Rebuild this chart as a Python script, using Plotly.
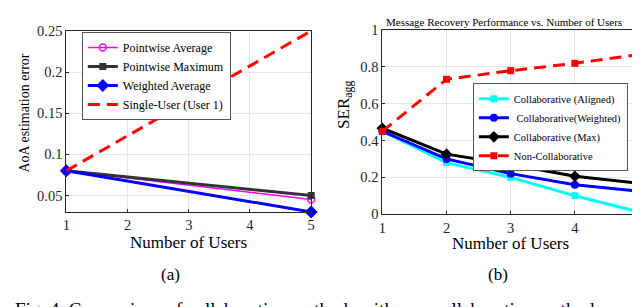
import plotly.graph_objects as go

W, H = 640, 307
FONT = "Liberation Serif, Times New Roman, Times, serif"

# ---------------- data: (a) AoA estimation error ----------------
users_a = [1, 5]
pointwise_avg = [0.08, 0.045]
pointwise_max = [0.08, 0.05]
weighted_avg = [0.08, 0.03]
single_user = [0.08, 0.25]
yticks_a = [0.05, 0.1, 0.15, 0.2, 0.25]
yticktext_a = ["0.05", "0.1", "0.15", "0.2", "0.25"]

# ---------------- data: (b) SER_agg ----------------
users_b = [1, 2, 3, 4, 5]
collab_aligned = [0.45, 0.28, 0.20, 0.10, 0.012]
collab_weighted = [0.45, 0.30, 0.22, 0.16, 0.124]
collab_max = [0.467, 0.326, 0.27, 0.206, 0.167]
non_collab = [0.45, 0.733, 0.78, 0.82, 0.868]
yticks_b = [0, 0.2, 0.4, 0.6, 0.8, 1]
yticktext_b = ["0", "0.2", "0.4", "0.6", "0.8", "1"]
xticks = [1, 2, 3, 4, 5]

DASH = "12px,7px"


def px(x):
    return x / W


def py(y):
    return (H - y) / H


fig = go.Figure()

# (a)
fig.add_trace(go.Scatter(x=users_a, y=pointwise_avg, name="Pointwise Average", mode="lines+markers",
                         line=dict(color="#ff00ff", width=1.5),
                         marker=dict(symbol="circle-open", size=7, color="#ff00ff", line=dict(width=1.5)),
                         xaxis="x", yaxis="y", legend="legend", cliponaxis=False))
fig.add_trace(go.Scatter(x=users_a, y=pointwise_max, name="Pointwise Maximum", mode="lines+markers",
                         line=dict(color="#333333", width=3),
                         marker=dict(symbol="square", size=7, color="#333333"),
                         xaxis="x", yaxis="y", legend="legend", cliponaxis=False))
fig.add_trace(go.Scatter(x=users_a, y=weighted_avg, name="Weighted Average", mode="lines+markers",
                         line=dict(color="#0000ff", width=3),
                         marker=dict(symbol="diamond", size=10, color="#0000ff"),
                         xaxis="x", yaxis="y", legend="legend", cliponaxis=False))
fig.add_trace(go.Scatter(x=users_a, y=single_user, name="Single-User (User 1)", mode="lines",
                         line=dict(color="#ff0000", width=3, dash=DASH),
                         xaxis="x", yaxis="y", legend="legend", cliponaxis=False))

# (b)
fig.add_trace(go.Scatter(x=users_b, y=collab_aligned, name="Collaborative (Aligned)", mode="lines+markers",
                         line=dict(color="#00ffff", width=3),
                         marker=dict(symbol="square", size=7, color="#00ffff"),
                         xaxis="x2", yaxis="y2", legend="legend2", cliponaxis=False))
fig.add_trace(go.Scatter(x=users_b, y=collab_weighted, name=" Collaborative(Weighted)", mode="lines+markers",
                         line=dict(color="#0000ff", width=3),
                         marker=dict(symbol="circle", size=8, color="#0000ff"),
                         xaxis="x2", yaxis="y2", legend="legend2", cliponaxis=False))
fig.add_trace(go.Scatter(x=users_b, y=collab_max, name="Collaborative (Max)", mode="lines+markers",
                         line=dict(color="#000000", width=3),
                         marker=dict(symbol="diamond", size=9, color="#000000"),
                         xaxis="x2", yaxis="y2", legend="legend2", cliponaxis=False))
fig.add_trace(go.Scatter(x=users_b, y=non_collab, name="Non-Collaborative", mode="lines+markers",
                         line=dict(color="#ff0000", width=3, dash=DASH),
                         marker=dict(symbol="square", size=7, color="#ff0000"),
                         xaxis="x2", yaxis="y2", legend="legend2", cliponaxis=False))

axis_common = dict(showline=True, linecolor="#262626", linewidth=1, mirror=True,
                   showgrid=True, gridcolor="#e6e6e6", gridwidth=1,
                   ticks="inside", ticklen=3, tickcolor="#262626",
                   tickfont=dict(family=FONT, size=14.5, color="#262626"), zeroline=False)

fig.update_layout(
    width=W, height=H,
    margin=dict(l=0, r=0, t=0, b=0),
    paper_bgcolor="white", plot_bgcolor="white",
    font=dict(family=FONT, color="#262626"),
    xaxis=dict(domain=[px(55), px(303)], range=[1, 5], tickvals=xticks, anchor="y", **axis_common),
    yaxis=dict(domain=[py(206.7), py(15.7)], range=[0.03, 0.25], tickvals=yticks_a,
               ticktext=yticktext_a, anchor="x", **axis_common),
    xaxis2=dict(domain=[px(375), px(635)], range=[1, 5], tickvals=xticks, anchor="y2", **axis_common),
    yaxis2=dict(domain=[py(209), py(15)], range=[0, 1], tickvals=yticks_b,
                ticktext=yticktext_b, anchor="x2", **axis_common),
    legend=dict(x=px(70.7), y=py(17), xanchor="left", yanchor="top",
                bgcolor="white", bordercolor="#555555", borderwidth=1,
                font=dict(family=FONT, size=12, color="#000000"),
                tracegroupgap=0),
    legend2=dict(x=px(466.7), y=py(71), xanchor="left", yanchor="top",
                 bgcolor="white", bordercolor="#555555", borderwidth=1,
                 font=dict(family=FONT, size=10.5, color="#000000"),
                 tracegroupgap=0),
    showlegend=True,
)

ann = [
    dict(text="Number of Users", x=px(179), y=py(238.5), font=dict(size=17)),
    dict(text="Number of Users", x=px(505), y=py(240.5), font=dict(size=17)),
    dict(text="AoA estimation error", x=px(13), y=py(102), textangle=-90, font=dict(size=14)),
    dict(text="SER<sub>agg</sub>", x=px(337), y=py(94), textangle=-90, font=dict(size=17)),
    dict(text="Message Recovery Performance vs. Number of Users", x=px(498), y=py(6), font=dict(size=11)),
    dict(text="(a)", x=px(160), y=py(273), font=dict(size=17)),
    dict(text="(b)", x=px(492), y=py(273), font=dict(size=17)),
]
for a in ann:
    f = dict(family=FONT, color="#000000")
    f.update(a.pop("font"))
    fig.add_annotation(xref="paper", yref="paper", showarrow=False, xanchor="center", yanchor="middle",
                       font=f, **a)

fig.add_annotation(xref="paper", yref="paper", showarrow=False, xanchor="left", yanchor="top",
                   x=px(1), y=py(296), text="Fig. 4. Comparison of collaborative methods with non-collaborative methods",
                   font=dict(family=FONT, size=19, color="#000000"))

fig.write_html("out.html")
